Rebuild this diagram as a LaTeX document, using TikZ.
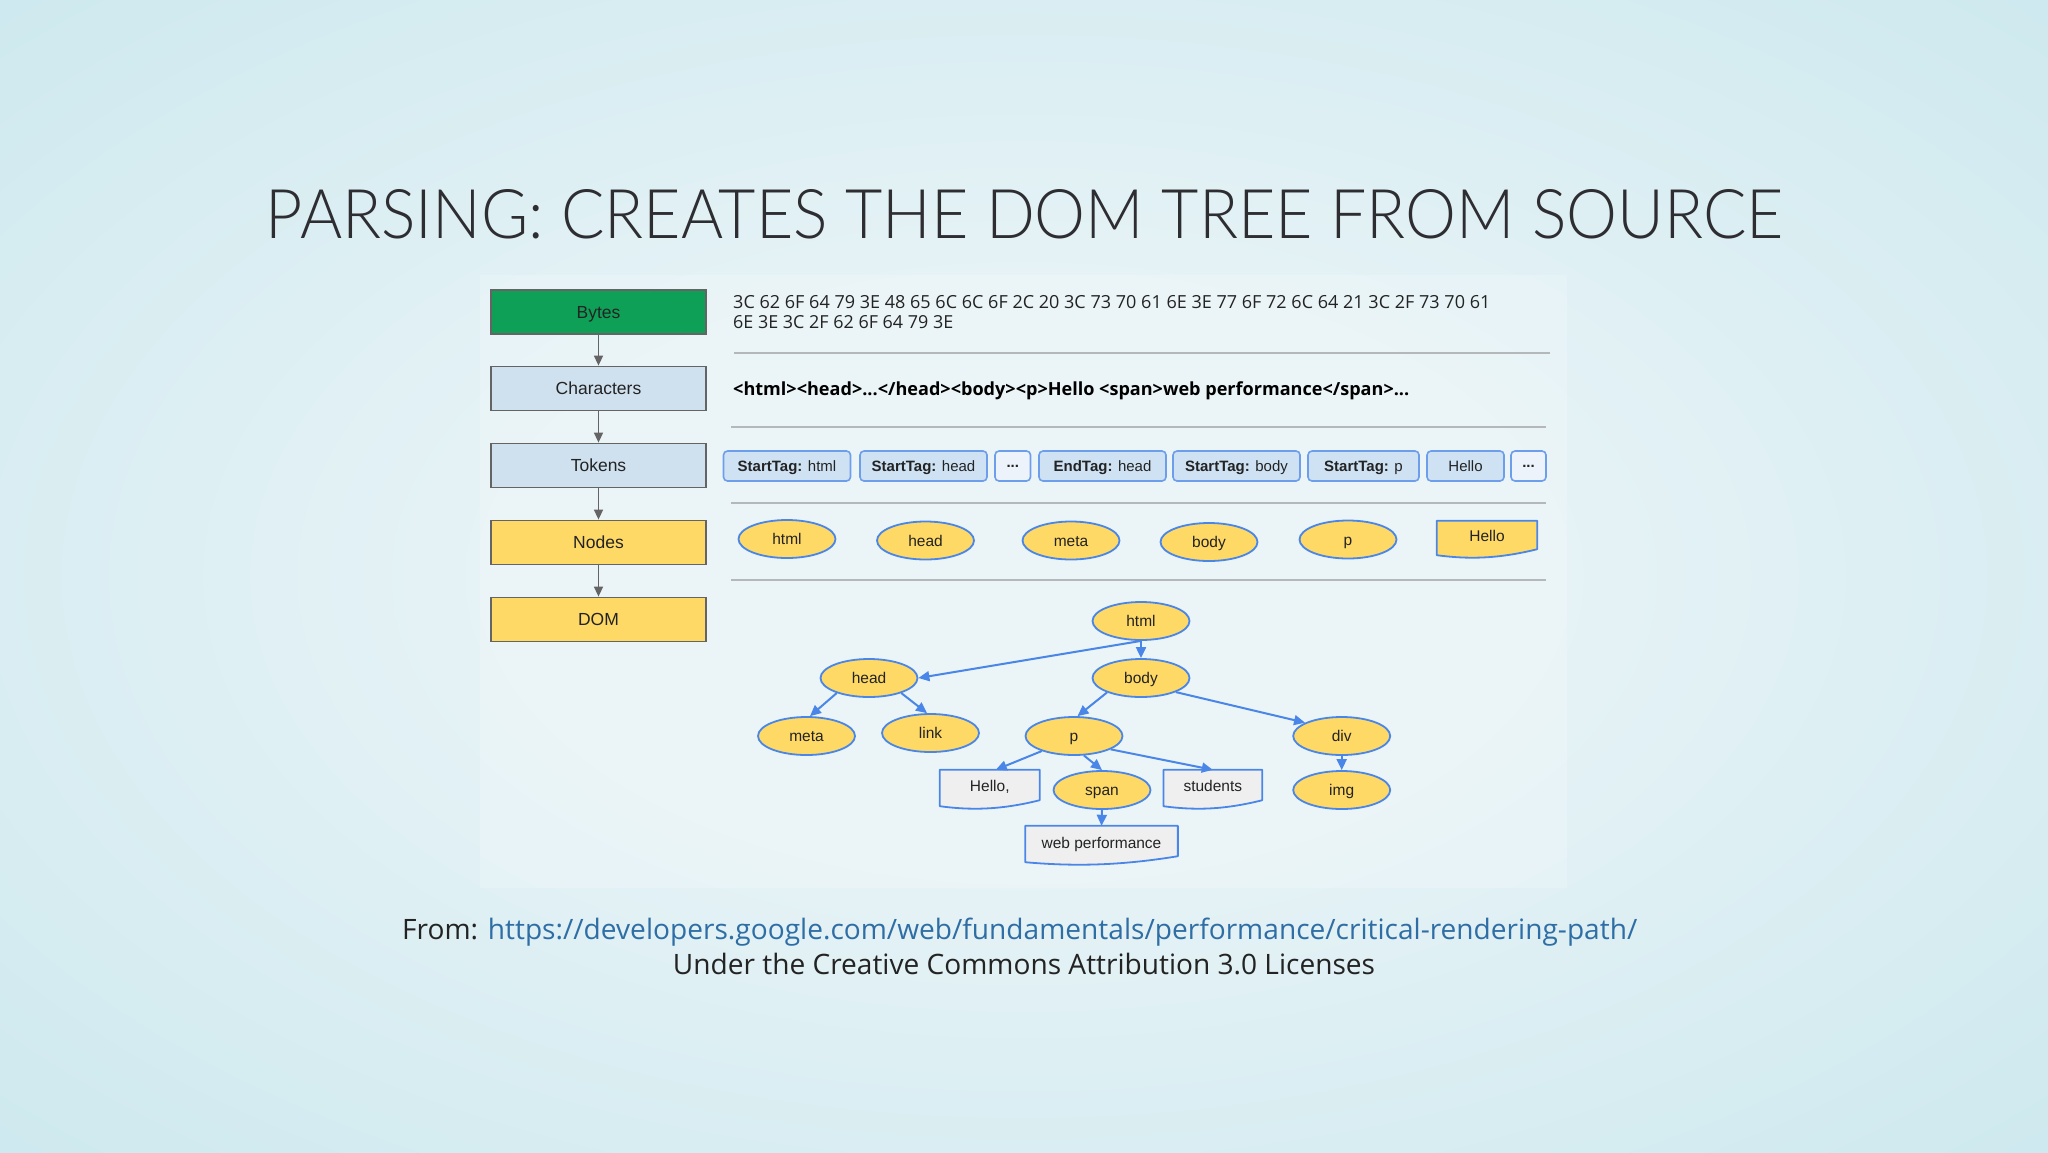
\documentclass[tikz,border=0pt]{standalone}
\usepackage{fontspec}
\usepackage{graphicx}
\setmainfont{Open Sans}
\newfontfamily\diafont{Liberation Sans}
\IfFontExistsTF{Lato Light}{\newfontfamily\titlefont{Lato Light}}{\newfontfamily\titlefont{Lato}}
\usetikzlibrary{arrows.meta,shapes.geometric,calc}
\definecolor{bgout}{RGB}{172,218,228}
\definecolor{bgedge}{RGB}{188,225,233}
\definecolor{bgmid}{RGB}{206,233,239}
\definecolor{bgin}{RGB}{231,243,246}
\definecolor{titlecol}{RGB}{45,45,50}
\definecolor{bytesgreen}{RGB}{15,160,88}
\definecolor{lightbox}{RGB}{207,224,238}
\definecolor{yel}{RGB}{255,217,102}
\definecolor{boxgray}{RGB}{100,100,100}
\definecolor{edgeblue}{RGB}{74,134,232}
\definecolor{tokfill}{RGB}{207,226,243}
\definecolor{tokborder}{RGB}{109,158,235}
\definecolor{dotfill}{RGB}{236,243,251}
\definecolor{docgray}{RGB}{239,239,239}
\definecolor{sepgray}{RGB}{180,184,186}
\definecolor{urlblue}{RGB}{46,110,165}
\definecolor{txtdark}{RGB}{35,35,35}
\pgfdeclareradialshading{bgshade}{\pgfpoint{0bp}{0bp}}{color(0bp)=(bgin); color(12bp)=(bgin); color(35bp)=(bgmid); color(50bp)=(bgedge); color(71bp)=(bgout)}
\tikzset{
  lbox/.style={draw=boxgray, line width=1.8pt, minimum width=215pt, minimum height=44pt, inner sep=0pt, text height=12.5pt, text depth=0pt, text=txtdark, font=\diafont\fontsize{17.5}{20}\selectfont},
  tok/.style={draw=tokborder, fill=tokfill, line width=1.6pt, rounded corners=4pt, minimum height=30pt, inner sep=0pt, text height=10.7pt, text depth=0pt, text=txtdark, font=\diafont\fontsize{15}{18}\selectfont},
  nd/.style={ellipse, draw=edgeblue, fill=yel, line width=1.8pt, minimum width=97pt, minimum height=38pt, inner sep=0pt, text height=11pt, text depth=0pt, text=txtdark, font=\diafont\fontsize{15.5}{18}\selectfont},
  docbox/.style={inner sep=0pt, minimum height=36pt},
  doctext/.style={inner sep=0pt, text height=11pt, text depth=0pt, text=txtdark, font=\diafont\fontsize{15.5}{18}\selectfont},
  docline/.style={draw=edgeblue, line width=1.8pt, line join=round},
  garrow/.style={draw=boxgray, line width=1.6pt, -{Triangle[length=10pt,width=9pt]}},
  barrow/.style={draw=edgeblue, line width=2pt, -{Triangle[length=11pt,width=10pt]}},
  sepline/.style={draw=sepgray, line width=2.5pt},
}
\newcommand\docdraw[2]{\path[docline, fill=#2] (#1.north west) -- (#1.north east) -- ([yshift=6pt]#1.south east) .. controls ($(#1.south east)!0.4!(#1.south west)+(0,4)$) and ($(#1.south east)!0.7!(#1.south west)+(0,4)$) .. (#1.south west) -- cycle;}
\begin{document}
\begin{tikzpicture}[x=1pt,y=-1pt]
\useasboundingbox (0,0) rectangle (2048,1152);
% background
\shade[shading=bgshade] (0,0) rectangle (2048,1152);
\fill[white, opacity=0.2] (480,275) rectangle (1567,888);
% title
\node[anchor=base, inner sep=0pt, text=titlecol] (title) at (1025,238)
  {\resizebox{1518pt}{49pt}{\titlefont\fontsize{68}{72}\selectfont PARSING: CREATES THE DOM TREE FROM SOURCE}};
% left column
\node[lbox, fill=bytesgreen] (bytes) at (598.5,312) {Bytes};
\node[lbox, fill=lightbox] (chars) at (598.5,388.5) {Characters};
\node[lbox, fill=lightbox] (tokens) at (598.5,465.5) {Tokens};
\node[lbox, fill=yel] (nodes) at (598.5,542.5) {Nodes};
\node[lbox, fill=yel] (dom) at (598.5,619.5) {DOM};
\draw[garrow] (bytes) -- (chars);
\draw[garrow] (chars) -- (tokens);
\draw[garrow] (tokens) -- (nodes);
\draw[garrow] (nodes) -- (dom);
% bytes text
\node[anchor=base west, inner sep=0pt, text=txtdark] (hex1) at (733,308.5)
  {\resizebox{757pt}{!}{\fontsize{18}{20}\selectfont 3C 62 6F 64 79 3E 48 65 6C 6C 6F 2C 20 3C 73 70 61 6E 3E 77 6F 72 6C 64 21 3C 2F 73 70 61}};
\node[anchor=base west, inner sep=0pt, text=txtdark] (hex2) at (733,328.5)
  {\resizebox{220pt}{!}{\fontsize{18}{20}\selectfont 6E 3E 3C 2F 62 6F 64 79 3E}};
% characters text
\node[anchor=base west, inner sep=0pt, text=black] (chartext) at (733,395)
  {\resizebox{676pt}{!}{\fontsize{18}{20}\selectfont\bfseries <html><head>...</head><body><p>Hello <span>web performance</span>...}};
% separators
\coordinate (s1a) at (734,353); \coordinate (s1b) at (1550,353);
\coordinate (s2a) at (731,427); \coordinate (s2b) at (1546,427);
\coordinate (s3a) at (731,503); \coordinate (s3b) at (1546,503);
\coordinate (s4a) at (731,580); \coordinate (s4b) at (1546,580);
\draw[sepline] (s1a) -- (s1b);
\draw[sepline] (s2a) -- (s2b);
\draw[sepline] (s3a) -- (s3b);
\draw[sepline] (s4a) -- (s4b);
% tokens
\node[tok, minimum width=127pt] (tk1) at (787,466) {\textbf{StartTag:} html};
\node[tok, minimum width=127pt] (tk2) at (923.5,466) {\textbf{StartTag:} head};
\node[tok, fill=dotfill, minimum width=35.5pt, text height=3pt] (tk3) at (1012.75,466) {\bfseries ...};
\node[tok, minimum width=127pt] (tk4) at (1102.5,466) {\textbf{EndTag:} head};
\node[tok, minimum width=127pt] (tk5) at (1236.5,466) {\textbf{StartTag:} body};
\node[tok, minimum width=111pt] (tk6) at (1363.5,466) {\textbf{StartTag:} p};
\node[tok, minimum width=77pt] (tk7) at (1465.5,466) {Hello};
\node[tok, fill=dotfill, minimum width=35pt, text height=3pt] (tk8) at (1528.5,466) {\bfseries ...};
% nodes row
\node[nd] (n1) at (787,539) {html};
\node[nd] (n2) at (925.5,540.5) {head};
\node[nd] (n3) at (1071,540.5) {meta};
\node[nd] (n4) at (1209,542) {body};
\node[nd] (n5) at (1348,539.5) {p};
\node[docbox, minimum width=100pt, minimum height=34pt] (n6) at (1487,538) {};
\docdraw{n6}{yel}
\node[doctext] (n6t) at (1487,536) {Hello};
% DOM tree
\node[nd] (thtml) at (1141,621) {html};
\node[nd] (thead) at (869,678) {head};
\node[nd] (tbody) at (1141,678) {body};
\node[nd] (tmeta) at (806.5,736) {meta};
\node[nd] (tlink) at (930.5,733) {link};
\node[nd] (tp) at (1074,736) {p};
\node[nd] (tdiv) at (1341.7,736) {div};
\node[nd] (tspan) at (1102,790) {span};
\node[nd] (timg) at (1341.7,790) {img};
\node[docbox, minimum width=99.5pt] (thello) at (989.75,788) {};
\docdraw{thello}{docgray}
\node[doctext] (thellot) at (989.75,786) {Hello,};
\node[docbox, minimum width=98.4pt] (tstud) at (1212.8,788) {};
\docdraw{tstud}{docgray}
\node[doctext] (tstudt) at (1212.8,786) {students};
\node[docbox, minimum width=152.3pt] (tweb) at (1101.5,844) {};
\docdraw{tweb}{docgray}
\node[doctext] (twebt) at (1101.5,843) {web performance};
% tree edges
\draw[barrow] (thtml.south) -- (thead.east);
\draw[barrow] (thtml.south) -- (tbody.north);
\draw[barrow] (thead.205) -- (tmeta.80);
\draw[barrow] (thead.335) -- (tlink.100);
\draw[barrow] (tbody.203) -- (tp.80);
\draw[barrow] (tbody.338) -- (tdiv.160);
\draw[barrow] (tp.205) -- ([xshift=6pt]thello.north);
\draw[barrow] (tp.297) -- (tspan.north);
\draw[barrow] (tp.340) -- (tstud.north);
\draw[barrow] (tdiv.south) -- (timg.north);
\draw[barrow] (tspan.south) -- (tweb.north);
% footer
\node[anchor=base west, inner sep=0pt] (src) at (402,939)
  {\resizebox{1235pt}{!}{\fontsize{24}{28}\selectfont\textcolor{txtdark}{From:} \textcolor{urlblue}{https://developers.google.com/web/fundamentals/performance/critical-rendering-path/}}};
\node[anchor=base, inner sep=0pt, text=txtdark] (lic) at (1024,974)
  {\resizebox{702pt}{!}{\fontsize{24}{28}\selectfont Under the Creative Commons Attribution 3.0 Licenses}};
\end{tikzpicture}
\end{document}
